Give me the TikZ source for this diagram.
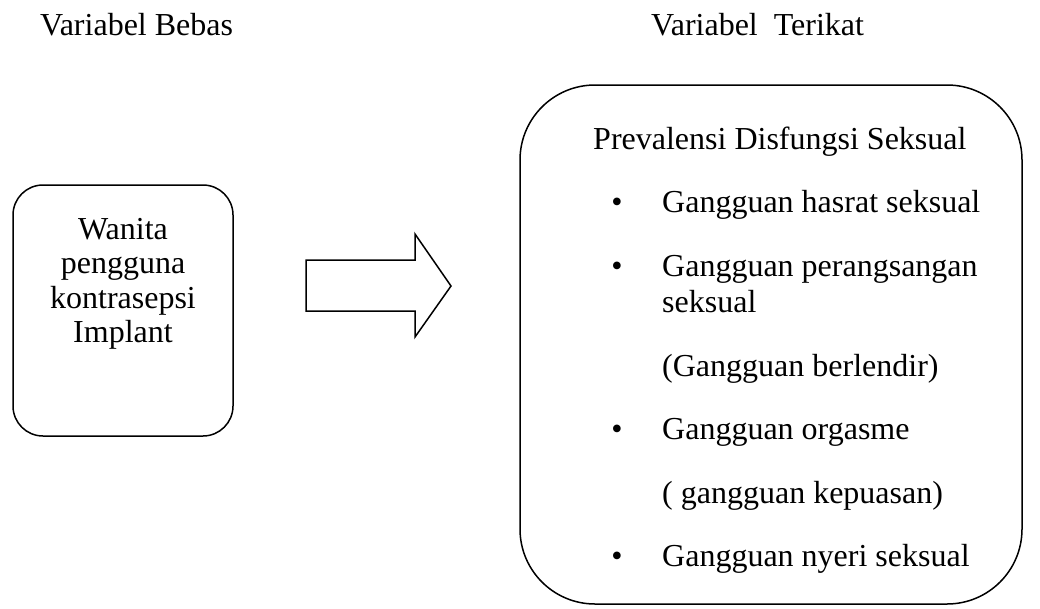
\documentclass[tikz,border=0pt]{standalone}
\usepackage{fontspec}
\setmainfont{Liberation Serif}
\begin{document}
\begin{tikzpicture}[x=1pt,y=-1pt,
  txt/.style={font=\fontsize{32}{36.8}\selectfont, inner sep=0pt},
  boxtxt/.style={font=\fontsize{32}{34.5}\selectfont, inner sep=0pt, align=center},
  box/.style={draw, line width=1.5pt},
]
\useasboundingbox (0,0) rectangle (1040,608);
% headings
\node[txt, anchor=base west] (tbebas) at (40,35) {Variabel Bebas};
\node[txt, anchor=base west] (tterikat) at (651,35) {Variabel~ Terikat};
% left box
\node[box, rounded corners=30pt, minimum width=220pt, minimum height=251pt, inner sep=0pt] (leftbox) at (123,310.5) {};
\node[boxtxt, anchor=north] (lefttext) at (123,218) {Wanita\\pengguna\\kontrasepsi\\Implant};
% block arrow
\draw[box, line join=miter] (306,260) -- (415,260) -- (415,234) -- (451,286) -- (415,337) -- (415,311) -- (306,311) -- cycle;
% right box
\node[box, rounded corners=75pt, minimum width=502pt, minimum height=519pt, inner sep=0pt] (rightbox) at (771,344.5) {};
\node[txt, anchor=base west] (head) at (593,149) {Prevalensi Disfungsi Seksual};
\node[txt, anchor=base] (b1) at (617,212.5) {\textbullet};
\node[txt, anchor=base west] (i1) at (662,212.5) {Gangguan hasrat seksual};
\node[txt, anchor=base] (b2) at (617,276) {\textbullet};
\node[txt, anchor=base west] (i2) at (662,276) {Gangguan perangsangan};
\node[txt, anchor=base west] (i2b) at (662,312.8) {seksual};
\node[txt, anchor=base west] (i2c) at (662,376.3) {(Gangguan berlendir)};
\node[txt, anchor=base] (b3) at (617,439.8) {\textbullet};
\node[txt, anchor=base west] (i3) at (662,439.8) {Gangguan orgasme};
\node[txt, anchor=base west] (i3b) at (662,503.3) {( gangguan kepuasan)};
\node[txt, anchor=base] (b4) at (617,566.8) {\textbullet};
\node[txt, anchor=base west] (i4) at (662,566.8) {Gangguan nyeri seksual};
\end{tikzpicture}
\end{document}
